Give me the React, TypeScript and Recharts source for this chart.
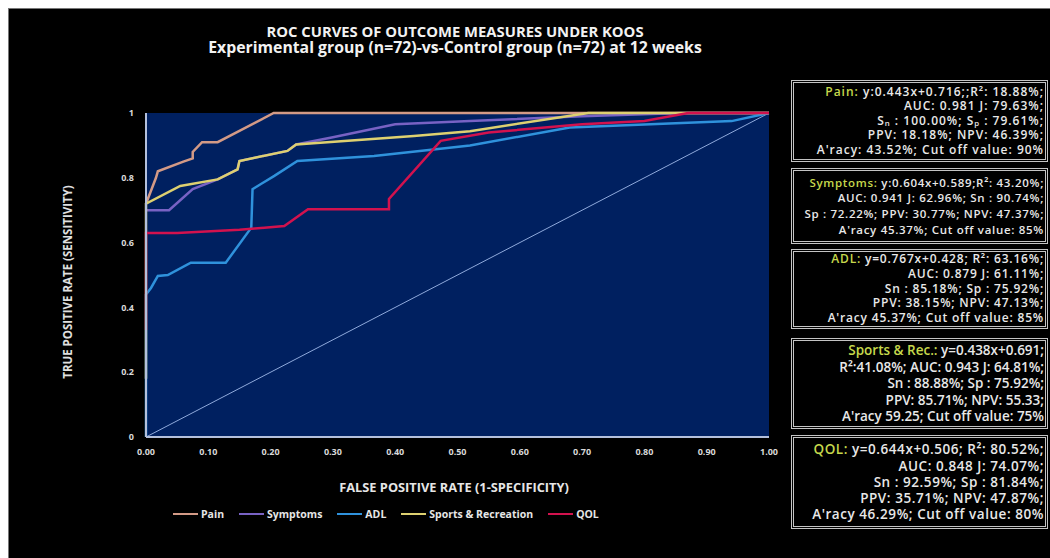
import { CartesianGrid, Line, LineChart, XAxis, YAxis } from "recharts";

// ROC points (false positive rate / true positive rate)
const painFpr = [0, 0.002, 0.016, 0.019, 0.06, 0.075, 0.075, 0.09, 0.115, 0.205, 1];
const painTpr = [0.72, 0.73, 0.8, 0.82, 0.85, 0.86, 0.88, 0.91, 0.91, 1, 1];

const symptomsFpr = [0, 0.037, 0.075, 0.115, 0.147, 0.15, 0.227, 0.241, 0.3, 0.4, 0.52, 0.7, 0.86, 1];
const symptomsTpr = [0.7, 0.7, 0.765, 0.795, 0.826, 0.852, 0.883, 0.903, 0.925, 0.965, 0.975, 0.99, 1, 1];

const adlFpr = [0, 0, 0.008, 0.019, 0.035, 0.072, 0.128, 0.169, 0.171, 0.206, 0.243, 0.366, 0.52, 0.68, 0.94, 1];
const adlTpr = [0, 0.44, 0.46, 0.497, 0.5, 0.538, 0.538, 0.646, 0.765, 0.806, 0.852, 0.867, 0.9, 0.955, 0.975, 1];

const sportsFpr = [0, 0, 0.055, 0.115, 0.147, 0.15, 0.227, 0.241, 0.43, 0.52, 0.71, 1];
const sportsTpr = [0.18, 0.72, 0.775, 0.795, 0.826, 0.852, 0.883, 0.903, 0.929, 0.944, 1, 1];

const qolFpr = [0, 0, 0.05, 0.15, 0.19, 0.222, 0.26, 0.39, 0.39, 0.473, 0.55, 0.7, 0.8, 0.87, 1];
const qolTpr = [0.33, 0.63, 0.63, 0.64, 0.646, 0.651, 0.703, 0.703, 0.735, 0.914, 0.94, 0.965, 0.975, 1, 1];

const refFpr = [0, 1];
const refTpr = [0, 1];

const xTicks = [0, 0.1, 0.2, 0.3, 0.4, 0.5, 0.6, 0.7, 0.8, 0.9, 1];
const yTicks = [0, 0.2, 0.4, 0.6, 0.8, 1];

const seriesNames = ["Pain", "Symptoms", "ADL", "Sports & Recreation", "QOL"];
const seriesColors = ["#d39a86", "#7862c4", "#2f92dc", "#ddd070", "#d2124e"];

// stats boxes: coloured label, rest of first line, other lines
const boxLabels = ["Pain:", "Symptoms:", "ADL:", "Sports & Rec.:", "QOL:"];
const boxFirstLines = [
  " y:0.443x+0.716;;R²: 18.88%;",
  " y:0.604x+0.589;R²: 43.20%;",
  " y=0.767x+0.428; R²: 63.16%;",
  " y=0.438x+0.691;",
  " y=0.644x+0.506; R²: 80.52%;"
];
const boxOtherLines = [
  ["AUC: 0.981 J: 79.63%;", "Sₙ : 100.00%; Sₚ : 79.61%;", "PPV: 18.18%; NPV: 46.39%;", "A'racy: 43.52%; Cut off value: 90%"],
  ["AUC: 0.941 J: 62.96%; Sn : 90.74%;", "Sp : 72.22%; PPV: 30.77%; NPV: 47.37%;", "A'racy 45.37%; Cut off value: 85%"],
  ["AUC: 0.879 J: 61.11%;", "Sn : 85.18%; Sp : 75.92%;", "PPV: 38.15%; NPV: 47.13%;", "A'racy 45.37%; Cut off value: 85%"],
  ["R²:41.08%; AUC: 0.943 J: 64.81%;", "Sn : 88.88%; Sp : 75.92%;", "PPV: 85.71%; NPV: 55.33;", "A'racy 59.25; Cut off value: 75%"],
  ["AUC: 0.848 J: 74.07%;", "Sn : 92.59%; Sp : 81.84%;", "PPV: 35.71%; NPV: 47.87%;", "A'racy 46.29%; Cut off value: 80%"]
];

const boxTops = [71, 159, 240, 329, 426];
const boxHeights = [82, 76, 80, 91, 94];
const boxFont = [12, 11.5, 12, 13.5, 13.5];
const boxSpacing = [1, 0.7, 0.8, 0, 0.55];
const boxLine = [14.6, 15.7, 14.7, 16.5, 16.2];

const FONT = '"Open Sans", "Liberation Sans", sans-serif';

const toPoints = (fpr: number[], tpr: number[]) => fpr.map((x, i) => ({ x, y: tpr[i] }));

const curves = [
  toPoints(painFpr, painTpr),
  toPoints(symptomsFpr, symptomsTpr),
  toPoints(adlFpr, adlTpr),
  toPoints(sportsFpr, sportsTpr),
  toPoints(qolFpr, qolTpr)
];

export default function App() {
  return (
    <div
      style={{
        position: "fixed",
        left: 8,
        top: 8,
        width: 1042,
        height: 550,
        background: "#000",
        borderTop: "1px solid #777",
        borderLeft: "1px solid #777",
        boxSizing: "border-box",
        fontFamily: FONT,
        color: "#e6e6e6",
        overflow: "hidden"
      }}
    >
      <style>{"html, body { overflow: hidden; }"}</style>
      <div
        style={{
          position: "absolute",
          left: 0,
          width: 892,
          top: 13.5,
          textAlign: "center",
          fontWeight: 700,
          lineHeight: "16.5px",
          color: "#f2f2f2"
        }}
      >
        <div style={{ fontSize: 14.8 }}>ROC CURVES OF OUTCOME MEASURES UNDER KOOS</div>
        <div style={{ fontSize: 15.8 }}>Experimental group (n=72)-vs-Control group (n=72) at 12 weeks</div>
      </div>

      <LineChart
        width={800}
        height={550}
        margin={{ top: 104, right: 40, bottom: 92, left: 97 }}
        style={{ position: "absolute", left: 0, top: 0 }}
      >
        <CartesianGrid fill="#002060" horizontal={false} vertical={false} />
        <XAxis
          axisLine={{ stroke: "#b4c0dc", strokeWidth: 2 }}
          dataKey="x"
          domain={[0, 1]}
          height={30}
          tick={{ fill: "#d9d9d9", fontSize: 9, fontWeight: 700 }}
          tickFormatter={(v: number) => v.toFixed(2)}
          tickLine={false}
          tickMargin={6}
          ticks={xTicks}
          type="number"
        />
        <YAxis
          axisLine={{ stroke: "#b4c0dc", strokeWidth: 2 }}
          dataKey="y"
          domain={[0, 1]}
          tick={{ fill: "#d9d9d9", fontSize: 9, fontWeight: 700 }}
          tickFormatter={(v: number) => (v === 0 || v === 1 ? String(v) : v.toFixed(1))}
          tickLine={false}
          tickMargin={6}
          ticks={yTicks}
          type="number"
          width={40}
        />
        <Line
          data={toPoints(refFpr, refTpr)}
          dataKey="y"
          dot={false}
          isAnimationActive={false}
          stroke="#8faadc"
          strokeWidth={1}
          type="linear"
        />
        {curves.map((pts, i) => (
          <Line
            data={pts}
            dataKey="y"
            dot={false}
            isAnimationActive={false}
            key={seriesNames[i]}
            name={seriesNames[i]}
            stroke={seriesColors[i]}
            strokeWidth={2.5}
            type="linear"
          />
        ))}
      </LineChart>

      <div
        style={{
          position: "absolute",
          left: 59 - 150,
          width: 300,
          top: 273 - 7,
          textAlign: "center",
          transform: "rotate(-90deg)",
          fontSize: 11.5,
          fontWeight: 700,
          lineHeight: "14px",
          color: "#e0e0e0"
        }}
      >
        TRUE POSITIVE RATE (SENSITIVITY)
      </div>

      <div
        style={{
          position: "absolute",
          left: 445 - 200,
          width: 400,
          top: 478 - 8,
          textAlign: "center",
          fontSize: 12.8,
          fontWeight: 700,
          lineHeight: "16px",
          color: "#e6e6e6"
        }}
      >
        FALSE POSITIVE RATE (1-SPECIFICITY)
      </div>

      <div
        style={{
          position: "absolute",
          left: 164,
          top: 497,
          display: "flex",
          alignItems: "center",
          gap: 15,
          fontSize: 10.5,
          fontWeight: 700,
          lineHeight: "16px",
          color: "#e6e6e6"
        }}
      >
        {seriesNames.map((name, i) => (
          <div key={name} style={{ display: "flex", alignItems: "center", gap: 3 }}>
            <div style={{ width: 25, height: 2, background: seriesColors[i] }} />
            <span>{name}</span>
          </div>
        ))}
      </div>

      {boxLabels.map((label, i) => (
        <div
          key={label}
          style={{
            position: "absolute",
            left: 782,
            top: boxTops[i],
            width: 257,
            height: boxHeights[i],
            border: "3px double #c4c4c4",
            boxSizing: "border-box",
            display: "flex",
            flexDirection: "column",
            justifyContent: "center",
            alignItems: "flex-end",
            paddingRight: 1,
            fontSize: boxFont[i],
            letterSpacing: boxSpacing[i],
            fontWeight: 600,
            lineHeight: `${boxLine[i]}px`,
            color: "#e8e8e8",
            whiteSpace: "nowrap"
          }}
        >
          <div>
            <span style={{ color: "#c6d84c" }}>{label}</span>
            {boxFirstLines[i]}
          </div>
          {boxOtherLines[i].map((line) => (
            <div key={line}>{line}</div>
          ))}
        </div>
      ))}
    </div>
  );
}
